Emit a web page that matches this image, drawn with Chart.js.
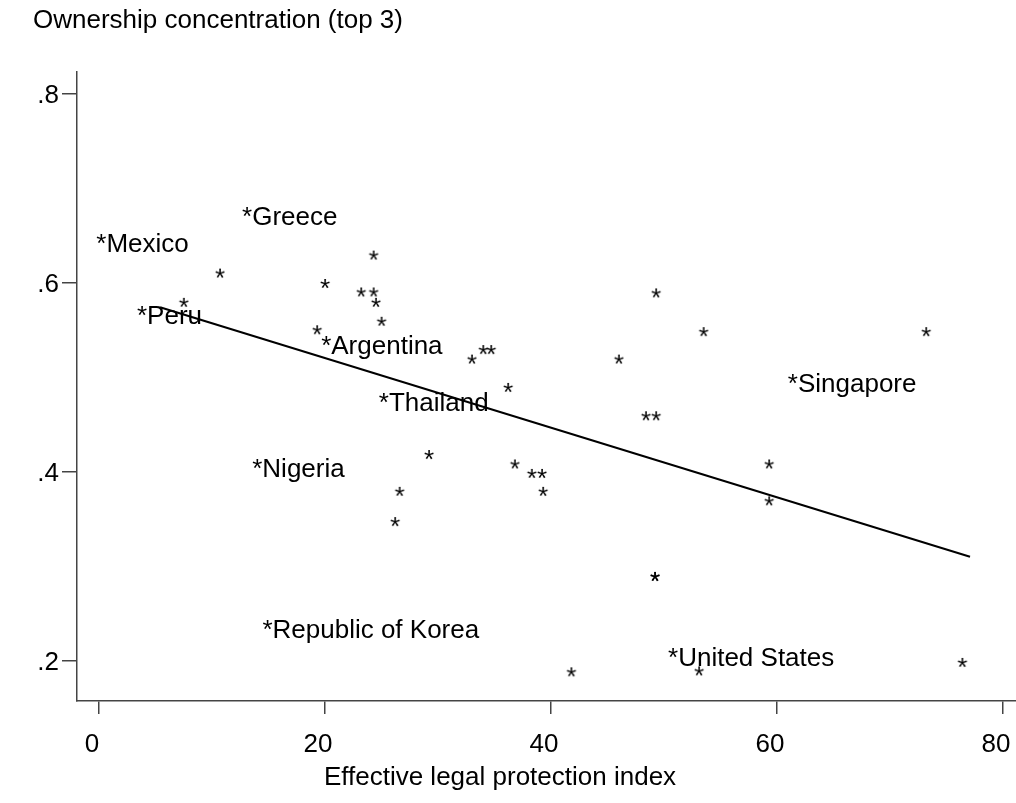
<!DOCTYPE html>
<html>
<head>
<meta charset="utf-8">
<script src="https://cdn.jsdelivr.net/npm/chart.js@4.4.0/dist/chart.umd.min.js"></script>
<style>
html,body{margin:0;padding:0;background:#fff;}
#wrap{width:1016px;height:803px;position:relative;}
</style>
</head>
<body>
<div id="wrap"><canvas id="chart"></canvas></div>
<script>
// ---- data ----
const yTitle='Ownership concentration (top 3)';
const xTitle='Effective legal protection index';
const xTicks=[0,20,40,60,80];
const yTicks=[0.2,0.4,0.6,0.8];

// unlabeled countries: legal protection index / top-3 ownership
const plainX=[10.7,20.0,24.3,23.2,24.3,24.5,25.0,7.5,19.3,49.3,33.0,34.0,34.7,46.0,36.2,48.4,49.3,29.2,36.8,38.3,39.2,39.3,53.5,73.2,59.3,59.3,49.2,49.2,53.1,76.4,26.6,26.2,41.8];
const plainY=[0.610,0.599,0.629,0.590,0.590,0.579,0.559,0.579,0.550,0.589,0.519,0.529,0.529,0.519,0.489,0.459,0.459,0.418,0.408,0.398,0.398,0.379,0.548,0.548,0.408,0.369,0.289,0.289,0.189,0.198,0.379,0.347,0.188];

// labeled countries
const names=['Greece','Mexico','Peru','Argentina','Thailand','Nigeria','Republic of Korea','Singapore','United States'];
const namedX=[13.1,0.2,3.8,20.1,25.2,14.0,14.9,61.4,50.8];
const namedY=[0.675,0.647,0.570,0.539,0.478,0.409,0.238,0.498,0.208];

// fitted line end points
const fitX=[5.4,77.08];
const fitY=[0.5743,0.3104];

const FONT='"Liberation Sans", Arial, Helvetica, sans-serif';
const labelFont='26px '+FONT;

function starCenter(ctx){
  const m=ctx.measureText('*');
  return {cx:(m.actualBoundingBoxRight-m.actualBoundingBoxLeft)/2, cy:(m.actualBoundingBoxDescent-m.actualBoundingBoxAscent)/2};
}
function makeStar(){
  const c=document.createElement('canvas'); c.width=c.height=24;
  const g=c.getContext('2d'); g.font=labelFont; g.fillStyle='#000';
  const {cx,cy}=starCenter(g);
  g.fillText('*',12-cx,12-cy);
  return c;
}
const starImg=makeStar();

const pairs=(xs,ys)=>xs.map((x,i)=>({x,y:ys[i]}));

// names written after their star, star glyph sitting on the point
const nameLabels={
  id:'nameLabels',
  afterDatasetsDraw(chart){
    const meta=chart.getDatasetMeta(1), ctx=chart.ctx;
    ctx.save(); ctx.font=labelFont; ctx.fillStyle='#000'; ctx.textAlign='left'; ctx.textBaseline='alphabetic';
    const {cx,cy}=starCenter(ctx);
    meta.data.forEach((p,i)=>{ ctx.fillText('*'+names[i],p.x-cx,p.y-cy); });
    ctx.restore();
  }
};
const axisTitles={
  id:'axisTitles',
  afterDraw(chart){
    const ctx=chart.ctx;
    ctx.save(); ctx.font='26px '+FONT; ctx.fillStyle='#000'; ctx.textBaseline='middle';
    ctx.textAlign='left'; ctx.fillText(yTitle,33,21);
    ctx.textAlign='center'; ctx.fillText(xTitle,500,778);
    ctx.restore();
  }
};

const axisCol='#444';
const noPad=s=>{ s.paddingLeft=0; s.paddingRight=0; s.paddingTop=0; s.paddingBottom=0; };
new Chart(document.getElementById('chart'),{
  data:{datasets:[
    {type:'scatter',data:pairs(plainX,plainY),pointStyle:starImg,pointRadius:4},
    {type:'scatter',data:pairs(namedX,namedY),pointRadius:0,pointHoverRadius:0},
    {type:'line',data:pairs(fitX,fitY),borderColor:'#000',borderWidth:2,pointRadius:0,fill:false}
  ]},
  options:{
    responsive:true, maintainAspectRatio:false, animation:false, devicePixelRatio:1,
    layout:{autoPadding:false,padding:{top:72,right:0,bottom:0,left:0}},
    plugins:{legend:{display:false},tooltip:{enabled:false},title:{display:false}},
    scales:{
      x:{type:'linear',min:-1.95,max:81.15,
        afterBuildTicks:s=>{ s.ticks=xTicks.map(v=>({value:v})); },
        afterFit:s=>{ s.height=102; noPad(s); },
        ticks:{font:{family:FONT,size:26},color:'#000',padding:15,labelOffset:-7,callback:v=>String(v)},
        grid:{drawOnChartArea:false,drawTicks:true,tickLength:13,color:axisCol,lineWidth:1.5},
        border:{display:true,color:axisCol,width:1.5}},
      y:{type:'linear',min:0.1577,max:0.8233,
        afterBuildTicks:s=>{ s.ticks=yTicks.map(v=>({value:v})); },
        afterFit:s=>{ s.width=77; noPad(s); },
        ticks:{font:{family:FONT,size:26},color:'#000',padding:3,labelOffset:2,callback:v=>v.toFixed(1).replace(/^0/,'')},
        grid:{drawOnChartArea:false,drawTicks:true,tickLength:15,color:axisCol,lineWidth:1.5},
        border:{display:true,color:axisCol,width:1.5}}
    }
  },
  plugins:[nameLabels,axisTitles]
});
</script>
</body>
</html>
